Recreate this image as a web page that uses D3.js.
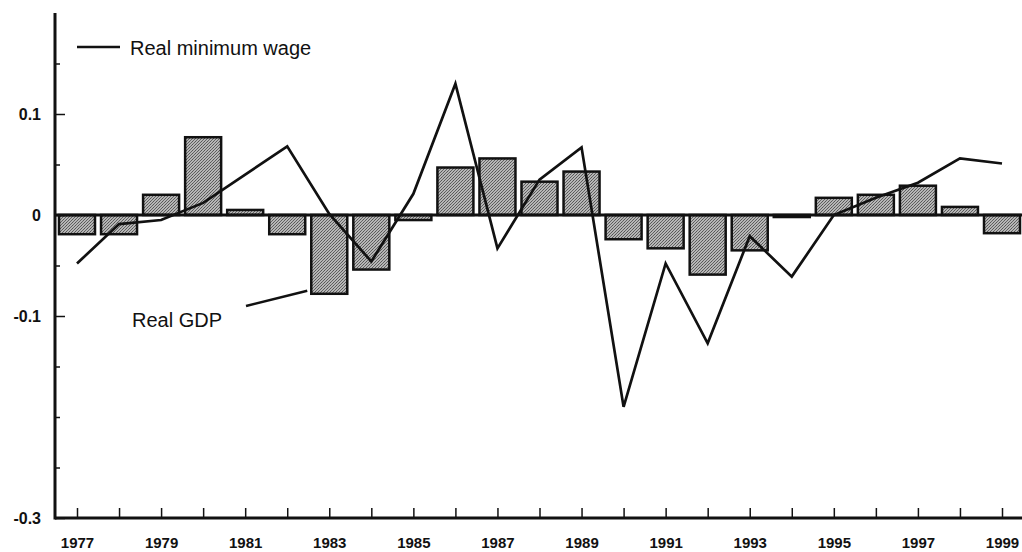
<!DOCTYPE html>
<html>
<head>
<meta charset="utf-8">
<script src="https://cdn.jsdelivr.net/npm/d3@7"></script>
<style>
  body { margin: 0; background: #fff; }
  svg { display: block; font-family: "Liberation Sans", Arial, sans-serif; }
</style>
</head>
<body>
<div id="chart"></div>
<script>
// DATA

var years = [1977, 1978, 1979, 1980, 1981, 1982, 1983, 1984, 1985, 1986, 1987, 1988,
             1989, 1990, 1991, 1992, 1993, 1994, 1995, 1996, 1997, 1998, 1999];

// Real GDP (bars)
var gdp = [-0.019, -0.019, 0.020, 0.077, 0.005, -0.019, -0.078, -0.054, -0.005, 0.047, 0.056, 0.033,
           0.043, -0.024, -0.033, -0.059, -0.035, -0.002, 0.017, 0.020, 0.029, 0.008, -0.018];

// Real minimum wage (line)
var minwage = [-0.048, -0.009, -0.005, 0.012, 0.040, 0.068, 0.001, -0.046, 0.021, 0.130, -0.033, 0.035,
               0.067, -0.190, -0.048, -0.127, -0.021, -0.061, 0.000, 0.017, 0.032, 0.056, 0.051];

var yMajorTicks = [0.1, 0, -0.1, -0.3];
var yMajorLabels = ["0.1", "0", "-0.1", "-0.3"];
var yMinorTicks = [0.15, 0.05, -0.05, -0.15, -0.2, -0.25];
var xLabelYears = [1977, 1979, 1981, 1983, 1985, 1987, 1989, 1991, 1993, 1995, 1997, 1999];

var legendLabel = "Real minimum wage";
var gdpLabel = "Real GDP";

// LAYOUT

var width = 1022;
var height = 552;
var axis_x = 55;
var bar_width = 36;

var x = d3.scaleLinear().domain([1977, 1999]).range([77, 1002]);
var y = d3.scaleLinear().domain([-0.3, 0.2]).range([518, 13]);

var svg = d3.select("#chart").append("svg")
  .attr("width", width)
  .attr("height", height);

// stippled grey fill, like the printed halftone
var defs = svg.append("defs");
var pat = defs.append("pattern")
  .attr("id", "halftone")
  .attr("patternUnits", "userSpaceOnUse")
  .attr("width", 3)
  .attr("height", 3);
pat.append("rect").attr("width", 3).attr("height", 3).attr("fill", "#b6b6b6");
pat.append("rect").attr("x", 0).attr("y", 0).attr("width", 1).attr("height", 1).attr("fill", "#555");
pat.append("rect").attr("x", 2).attr("y", 1).attr("width", 1).attr("height", 1).attr("fill", "#5e5e5e");
pat.append("rect").attr("x", 1).attr("y", 2).attr("width", 1).attr("height", 1).attr("fill", "#666");

// BARS

svg.append("g")
  .attr("class", "bars")
  .selectAll("rect")
  .data(years)
  .enter().append("rect")
    .attr("x", function(d) { return x(d) - bar_width / 2; })
    .attr("width", bar_width)
    .attr("y", function(d, i) { return y(Math.max(0, gdp[i])); })
    .attr("height", function(d, i) { return Math.max(2, Math.abs(y(gdp[i]) - y(0))); })
    .attr("fill", "url(#halftone)")
    .attr("stroke", "#111")
    .attr("stroke-width", 2.5);

// ZERO LINE

svg.append("line")
  .attr("x1", axis_x)
  .attr("x2", width)
  .attr("y1", y(0))
  .attr("y2", y(0))
  .attr("stroke", "#111")
  .attr("stroke-width", 3);

// MINIMUM WAGE LINE

var line = d3.line()
  .x(function(d) { return x(d); })
  .y(function(d, i) { return y(minwage[i]); });

svg.append("path")
  .datum(years)
  .attr("d", line)
  .attr("fill", "none")
  .attr("stroke", "#111")
  .attr("stroke-width", 2.7)
  .attr("stroke-linejoin", "miter");

// Y AXIS

var yMajor = svg.append("g")
  .attr("transform", "translate(" + axis_x + ",0)")
  .call(d3.axisLeft(y)
    .tickValues(yMajorTicks)
    .tickSize(-10)
    .tickPadding(14)
    .tickFormat(function(d, i) { return yMajorLabels[i]; }));

var yMinor = svg.append("g")
  .attr("transform", "translate(" + axis_x + ",0)")
  .call(d3.axisLeft(y)
    .tickValues(yMinorTicks)
    .tickSize(-5)
    .tickFormat(""));

[yMajor, yMinor].forEach(function(g) {
  g.select(".domain").remove();
  g.selectAll(".tick line").attr("stroke", "#111").attr("stroke-width", 1.5);
});
yMajor.selectAll("text")
  .attr("fill", "#111")
  .attr("font-size", 16)
  .attr("font-weight", "bold")
  .attr("font-family", "Liberation Sans, Arial, sans-serif");

svg.append("line")
  .attr("x1", axis_x)
  .attr("x2", axis_x)
  .attr("y1", y(0.2))
  .attr("y2", y(-0.3) + 1.5)
  .attr("stroke", "#111")
  .attr("stroke-width", 3);

// X AXIS

var xAxis = svg.append("g")
  .attr("transform", "translate(0," + y(-0.3) + ")")
  .call(d3.axisBottom(x)
    .tickValues(years)
    .tickSize(-10)
    .tickPadding(19)
    .tickFormat(function(d) { return xLabelYears.indexOf(d) >= 0 ? String(d) : ""; }));

xAxis.select(".domain").remove();
xAxis.selectAll(".tick line").attr("stroke", "#111").attr("stroke-width", 1.5);
xAxis.selectAll("text")
  .attr("fill", "#111")
  .attr("font-size", 15)
  .attr("font-weight", "bold")
  .attr("font-family", "Liberation Sans, Arial, sans-serif");

svg.append("line")
  .attr("x1", axis_x)
  .attr("x2", width)
  .attr("y1", y(-0.3))
  .attr("y2", y(-0.3))
  .attr("stroke", "#111")
  .attr("stroke-width", 3);

// ANNOTATIONS

svg.append("line")
  .attr("x1", 77).attr("x2", 120)
  .attr("y1", 47).attr("y2", 47)
  .attr("stroke", "#111")
  .attr("stroke-width", 2.5);

svg.append("text")
  .attr("x", 130)
  .attr("y", 55)
  .attr("font-size", 20)
  .attr("fill", "#111")
  .text(legendLabel);

svg.append("text")
  .attr("x", 132)
  .attr("y", 327)
  .attr("font-size", 20)
  .attr("fill", "#111")
  .text(gdpLabel);

// leader from label to the 1983 bar
svg.append("line")
  .attr("x1", 246).attr("y1", 306)
  .attr("x2", x(1983) - bar_width / 2 - 4).attr("y2", y(gdp[6]) - 3)
  .attr("stroke", "#111")
  .attr("stroke-width", 2.5);
</script>
</body>
</html>
